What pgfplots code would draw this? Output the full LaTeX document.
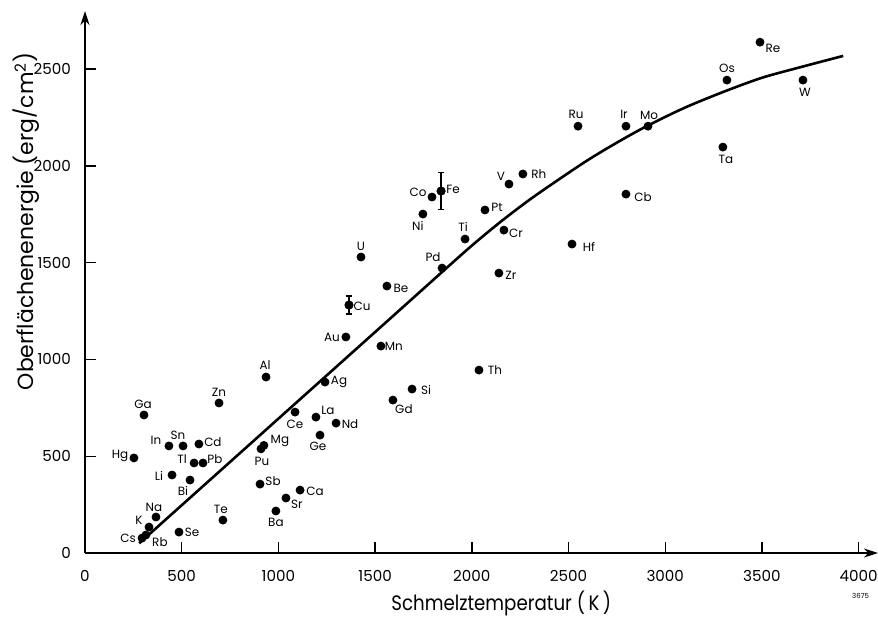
\documentclass[border=0pt]{standalone}
\usepackage{pgfplots}
\pgfplotsset{compat=1.18}
\usepackage{pgfplotstable}
\usepackage{fontspec}
\setmainfont{Poppins}
\newfontfamily\narrowfont{Poppins}[FakeStretch=0.87]
\usetikzlibrary{arrows.meta}

% melting point (K), surface energy (erg/cm2), label offset in px (right, up)
\pgfplotstableread{
x y name dx dy
3490 2639 Re 13 -6
3319 2443 Os 0 12
3712 2443 W 2 -12
3298 2097 Ta 3 -12
2549 2205 Ru -2 12
2797 2205 Ir -2 12
2911 2205 Mo 1 11
2797 1854 Cb 17 -3
2518 1596 Hf 17 -3
2264 1958 Rh 16 0
2192 1906 V -8 8
1841 1870 Fe 12 2
1794 1839 Co -14 5
1747 1751 Ni -5 -12
2068 1772 Pt 12 3
1965 1622 Ti -2 12
2166 1668 Cr 12 -3
1846 1472 Pd -9 11
2140 1446 Zr 12 -2
1427 1529 U 0 11
1561 1379 Be 14 -2
1365 1281 Cu 13 -1
1349 1116 Au -14 0
1530 1069 Mn 13 0
2037 945 Th 16 0
1691 847 Si 14 -1
1592 790 Gd 11 -9
936 909 Al -1 12
1241 883 Ag 14 0
693 775 Zn 0 11
305 713 Ga -1 11
1194 702 La 12 7
1086 728 Ce 0 -12
1298 671 Nd 14 -1
1215 609 Ge -2 -11
925 556 Mg 16 4
910 538 Pu 1 -13
434 553 In -13 6
507 553 Sn -5 11
589 563 Cd 14 2
564 465 Tl -12 4
610 465 Pb 12 4
253 491 Hg -14 2
450 403 Li -13 -1
543 377 Bi -7 -11
905 356 Sb 13 3
1112 325 Ca 15 -1
1039 284 Sr 11 -6
987 217 Ba 0 -11
713 170 Te -2 11
367 186 Na -2 10
331 134 K -10 7
486 108 Se 13 0
295 77 Cs -14 0
315 93 Rb 14 -7
}\elements

\pgfplotstableread{
x y
280 50
1000 694
1600 1231
1850 1455
2000 1588
2150 1712
2300 1826
2450 1930
2600 2030
2750 2120
2900 2203
3100 2300
3300 2382
3500 2455
3700 2510
3920 2568
}\fitcurve

\begin{document}
\begin{tikzpicture}
\useasboundingbox (-42.5bp,-33.5bp) rectangle (396.5bp,276.5bp);
\begin{axis}[
  at={(0,0)}, anchor=south west,
  scale only axis, width=396.5bp, height=271bp,
  xmin=0, xmax=4100, ymin=0, ymax=2800,
  axis lines=left,
  axis line style={line width=1.1bp, -{Stealth[length=7bp,width=4.5bp]}},
  xtick={0,500,...,4000}, ytick={0,500,...,2500},
  tick align=inside, major tick length=5.5bp,
  tick style={line width=0.7bp, black},
  scaled ticks=false,
  /pgf/number format/1000 sep={},
  /pgf/number format/assume math mode=true,
  tick label style={font=\fontsize{7.6}{9}\selectfont},
  xticklabel style={yshift=-5bp},
  yticklabel style={xshift=-3.5bp},
  xlabel={Schmelztemperatur (\,K\,)},
  ylabel={Oberflächenenergie (erg/cm\textsuperscript{2})},
  xlabel style={font=\narrowfont\fontsize{10.5}{12}\selectfont,
    at={(axis description cs:0.525,-0.093)}, anchor=center},
  ylabel style={font=\fontsize{11}{13}\selectfont,
    at={(axis description cs:-0.074,0.612)}, anchor=center},
  clip=false,
]
\addplot[black, line width=1.3bp, smooth, no marks] table {\fitcurve};

\addplot[only marks, mark=*, mark size=2bp, black,
  point meta=explicit symbolic,
  visualization depends on={\thisrow{dx}\as\lbldx},
  visualization depends on={\thisrow{dy}\as\lbldy},
  nodes near coords,
  nodes near coords style={font=\fontsize{6}{7}\selectfont, anchor=center,
    inner sep=0pt, xshift=\lbldx*0.5bp, yshift=\lbldy*0.5bp},
] table[meta=name] {\elements};

\addplot[only marks, mark=*, mark size=2bp, black,
  error bars/.cd, y dir=both, y explicit,
  error bar style={line width=0.7bp},
  error mark options={rotate=90, mark size=1.7bp, line width=0.7bp},
] coordinates {(1841,1870) +- (0,95) (1365,1281) +- (0,47)};

\node[font=\fontsize{3.5}{4}\selectfont] at (axis cs:4010,-220) {3675};
\end{axis}
\end{tikzpicture}
\end{document}
